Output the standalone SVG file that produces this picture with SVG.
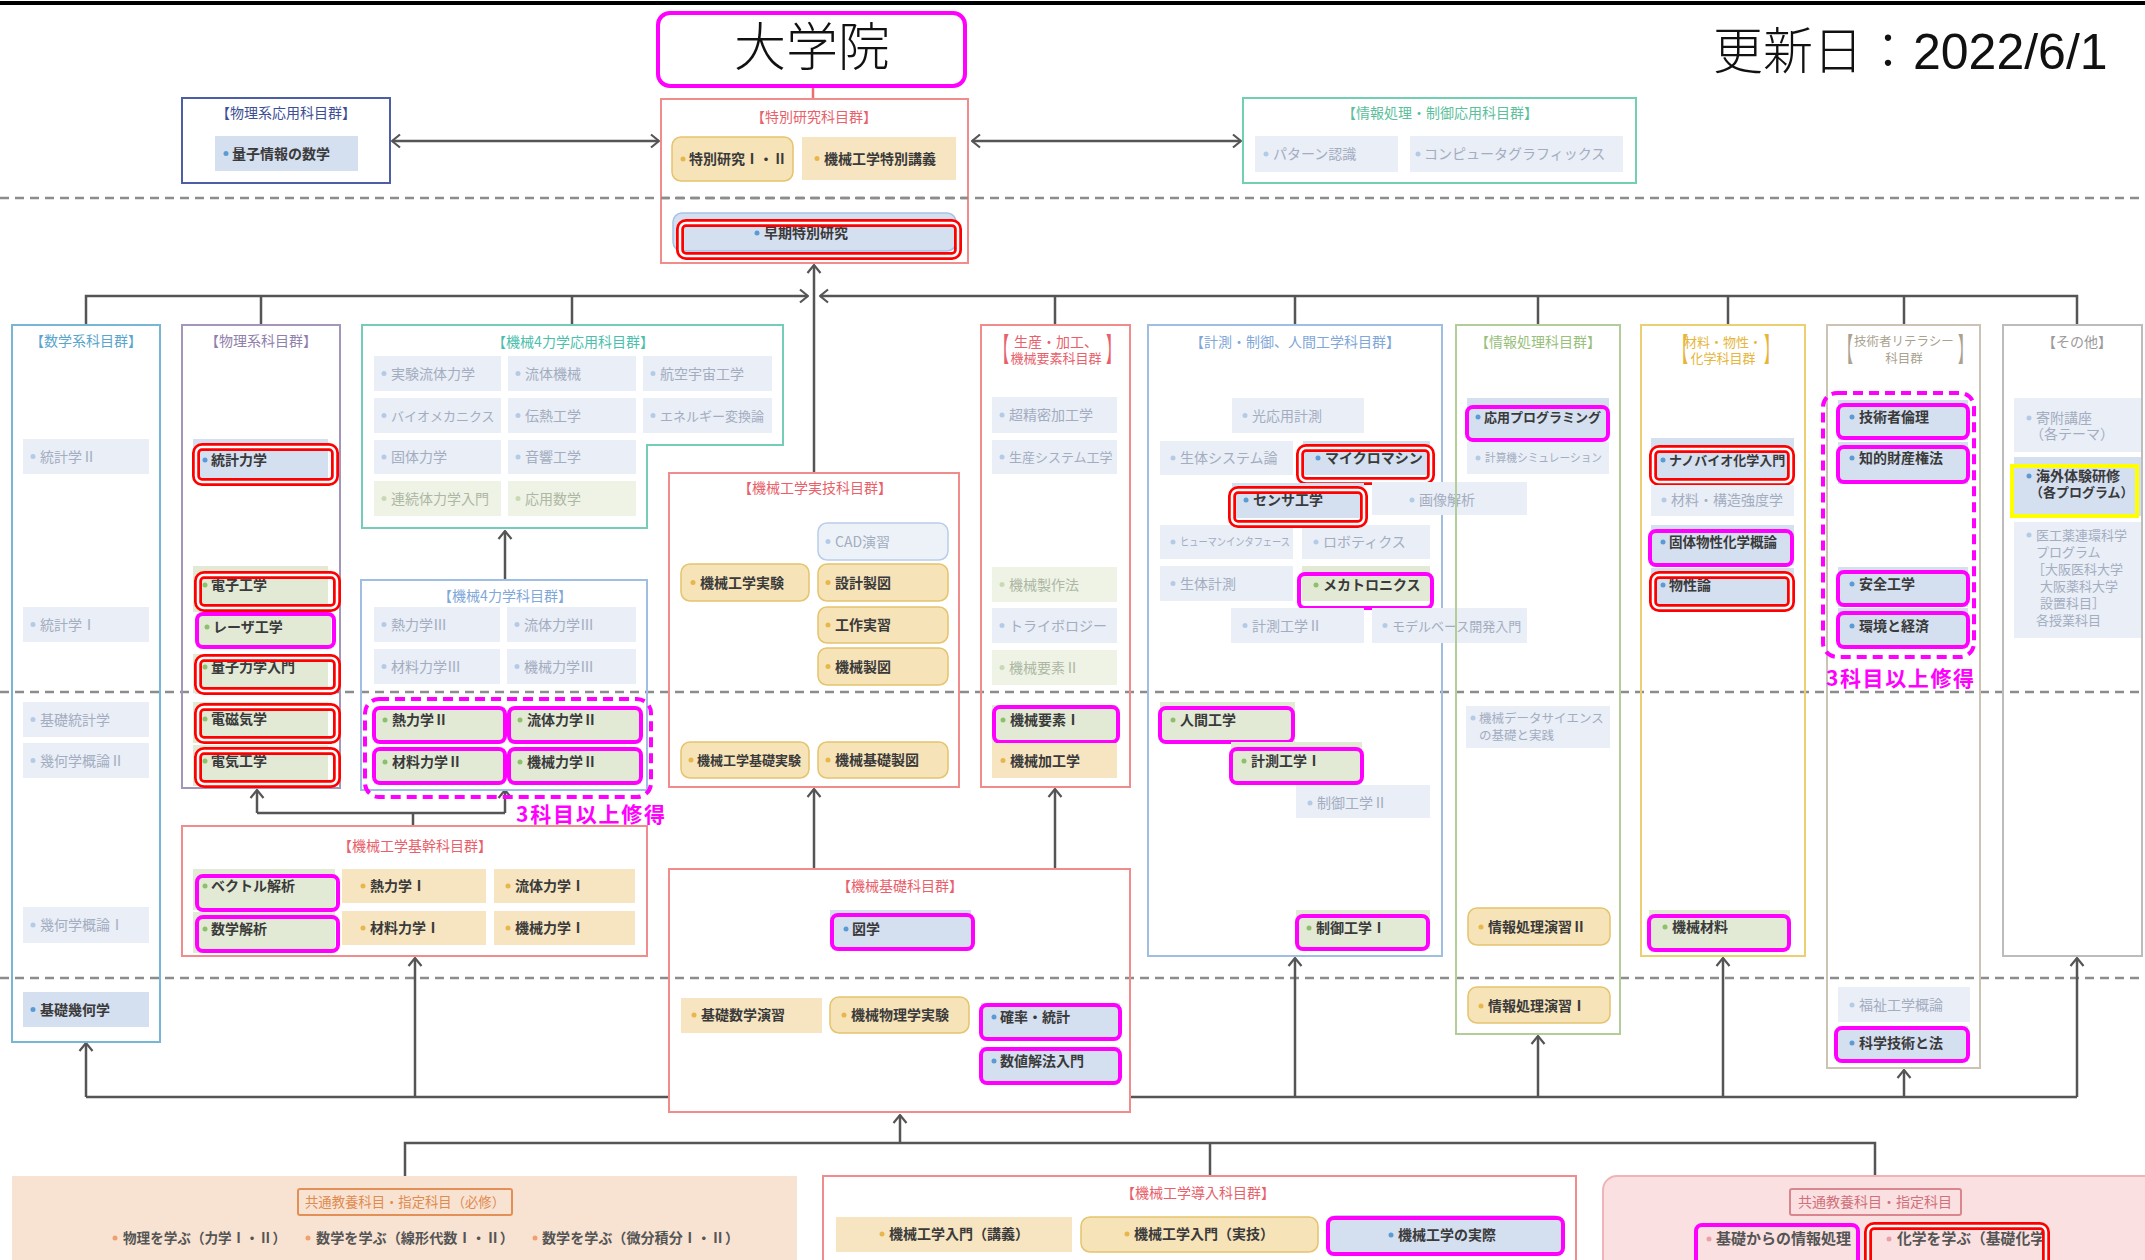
<svg xmlns="http://www.w3.org/2000/svg" width="2145" height="1260" viewBox="0 0 2145 1260">
<defs>
<style>
text{font-family:"Noto Sans CJK JP","Noto Sans CJK SC",sans-serif;}
.ab{fill:#d4dff0}
.ag{fill:#e2ead6}
.ay{fill:#f6e5c0}
.ry{fill:#f6e3b8;stroke:#e5c46e;stroke-width:1.5}
.rb{fill:#d4dff0;stroke:#a8c2e3;stroke-width:1.5}
.fb{fill:#e9eef7}
.fg{fill:#eef3e5}
.ta{font-size:14px;font-weight:700;fill:#3a3a3a}
.tf{font-size:14px;fill:#a3adbf}
.tg{font-size:14px;fill:#adb7a4}
.bb{fill:#5b9bd5}.bg{fill:#8cc06a}.by{fill:#e8b64a}.bf{fill:#b4cbe8}.bfg{fill:#c9d9b3}.bo{fill:#f0a070}.bp{fill:#eaa0a8}
.hm{fill:none;stroke:#ff00ff;stroke-width:4}
.hr1{fill:none;stroke:#ff0000;stroke-width:8}
.hr2{fill:none;stroke:#ffffff;stroke-width:2.5}
.fr{fill:none;stroke-width:2}
.ttl{font-size:14px;text-anchor:middle}
.cn{fill:none;stroke:#555;stroke-width:2.5}
.dl{stroke:#8c8c8c;stroke-width:2.5;stroke-dasharray:9 6}
.dm{fill:none;stroke:#ff00ff;stroke-width:4;stroke-dasharray:10 6}
.m3{font-size:21px;font-weight:700;fill:#ff00ff}
</style>
<marker id="ah" viewBox="0 0 10 16" refX="9" refY="8" markerWidth="10" markerHeight="16" markerUnits="userSpaceOnUse" orient="auto-start-reverse"><path d="M1,1.5 L9,8 L1,14.5" fill="none" stroke="#555" stroke-width="2.2"/></marker>
</defs>
<rect width="2145" height="1260" fill="#fff"/>
<line x1="0" y1="3" x2="2145" y2="3" stroke="#000" stroke-width="4"/>
<g id="guides">
<line class="dl" x1="0" y1="198" x2="2145" y2="198"/>
<line class="dl" x1="0" y1="692" x2="2145" y2="692"/>
<line class="dl" x1="0" y1="978" x2="2145" y2="978"/>
</g>

<g id="connectors">
<line x1="813" y1="86" x2="813" y2="99" stroke="#e87070" stroke-width="2.5"/>
<path class="cn" d="M392,141 H659" marker-start="url(#ah)" marker-end="url(#ah)"/>
<path class="cn" d="M972,141 H1241" marker-start="url(#ah)" marker-end="url(#ah)"/>
<path class="cn" d="M86,325 V296 H808" marker-end="url(#ah)"/>
<path class="cn" d="M261,296 V325 M572,296 V325"/>
<path class="cn" d="M2077,325 V296 H820" marker-end="url(#ah)"/>
<path class="cn" d="M1055,296 V325 M1295,296 V325 M1538,296 V325 M1728,296 V325 M1904,296 V325"/>
<path class="cn" d="M814,473 V265" marker-end="url(#ah)"/>
<path class="cn" d="M505,580 V531" marker-end="url(#ah)"/>
<path class="cn" d="M413,826 V813 M257,813 H505"/>
<path class="cn" d="M257,813 V790" marker-end="url(#ah)"/>
<path class="cn" d="M505,813 V790" marker-end="url(#ah)"/>
<path class="cn" d="M814,869 V789" marker-end="url(#ah)"/>
<path class="cn" d="M1055,869 V789" marker-end="url(#ah)"/>
<path class="cn" d="M86,1097 H669 M1130,1097 H2077"/>
<path class="cn" d="M86,1097 V1043" marker-end="url(#ah)"/>
<path class="cn" d="M415,1097 V958" marker-end="url(#ah)"/>
<path class="cn" d="M1295,1097 V958" marker-end="url(#ah)"/>
<path class="cn" d="M1538,1097 V1036" marker-end="url(#ah)"/>
<path class="cn" d="M1723,1097 V958" marker-end="url(#ah)"/>
<path class="cn" d="M1904,1097 V1070" marker-end="url(#ah)"/>
<path class="cn" d="M2077,1097 V958" marker-end="url(#ah)"/>
<path class="cn" d="M405,1176 V1143 H1875 V1176 M1210,1143 V1176"/>
<path class="cn" d="M900,1143 V1115" marker-end="url(#ah)"/>
</g>

<g id="n-daigakuin"><rect x="658" y="13" width="307" height="73" rx="12" fill="#fff" stroke="#ff00ff" stroke-width="4"/><text x="812" y="66" font-size="52" font-weight="300" text-anchor="middle" fill="#111">大学院</text></g>
<text id="date" x="1713" y="69" font-size="50" fill="#111"><tspan font-weight="300">更新日：</tspan><tspan style="font-family:'Liberation Sans',sans-serif">2022/6/1</tspan></text>

<g id="g-tokubetsu">
<rect class="fr" x="661" y="99" width="307" height="164" stroke="#f08c8c" fill="#fff"/>
<text class="ttl" x="814" y="122" fill="#e8606a">【特別研究科目群】</text>
<g id="i-tokken"><rect class="ry" x="672" y="137" width="121" height="44" rx="9"/><circle class="by" cx="683" cy="159" r="2.5"/><text class="ta" x="689" y="164">特別研究Ⅰ・Ⅱ</text></g>
<g id="i-tokkougi"><rect class="ay" x="802" y="137" width="154" height="43"/><circle class="by" cx="817" cy="158.5" r="2.5"/><text class="ta" x="824" y="163.5">機械工学特別講義</text></g>
<line class="dl" x1="661" y1="198" x2="968" y2="198"/>
<g id="i-souki"><rect class="rb" x="673" y="213" width="283" height="38" rx="9"/><circle class="bb" cx="757" cy="233" r="2.5"/><text class="ta" x="764" y="238">早期特別研究</text><rect class="hr1" x="680" y="223" width="278" height="33" rx="6"/><rect class="hr2" x="680" y="223" width="278" height="33" rx="6"/></g>
</g>

<g id="g-butsuriouyou">
<rect class="fr" x="182" y="98" width="208" height="85" stroke="#4b5ea6" stroke-width="2.5" fill="#fff"/>
<text class="ttl" x="286" y="118" fill="#3d4f94">【物理系応用科目群】</text>
<g id="i-ryoushi"><rect class="ab" x="215" y="136" width="143" height="35"/><circle class="bb" cx="226" cy="153.5" r="2.5"/><text class="ta" x="232" y="158.5" fill="#2c3560">量子情報の数学</text></g>
</g>

<g id="g-jouhouseigyo">
<rect class="fr" x="1243" y="98" width="393" height="85" stroke="#72d0b2" fill="#fff"/>
<text class="ttl" x="1440" y="118" fill="#5cc09c">【情報処理・制御応用科目群】</text>
<g id="i-pattern"><rect class="fb" x="1255" y="136" width="143" height="36"/><circle class="bf" cx="1266" cy="154" r="2.5"/><text class="tf" x="1273" y="159">パターン認識</text></g>
<g id="i-cg"><rect class="fb" x="1410" y="136" width="213" height="36"/><circle class="bf" cx="1418" cy="154" r="2.5"/><text class="tf" x="1424" y="159">コンピュータグラフィックス</text></g>
</g>

<g id="g-suugaku">
<rect class="fr" x="12" y="325" width="148" height="717" stroke="#78b6d6"/>
<text class="ttl" x="86" y="346" fill="#5aa5cc">【数学系科目群】</text>
<g id="i-toukei2"><rect class="fb" x="23" y="439" width="126" height="35"/><circle class="bf" cx="33" cy="456.5" r="2.5"/><text class="tf" x="40" y="461.5">統計学Ⅱ</text></g>
<g id="i-toukei1"><rect class="fb" x="23" y="607" width="126" height="35"/><circle class="bf" cx="33" cy="624.5" r="2.5"/><text class="tf" x="40" y="629.5">統計学Ⅰ</text></g>
<g id="i-kisotoukei"><rect class="fb" x="23" y="702" width="126" height="35"/><circle class="bf" cx="33" cy="719.5" r="2.5"/><text class="tf" x="40" y="724.5">基礎統計学</text></g>
<g id="i-kika2"><rect class="fb" x="23" y="743" width="126" height="35"/><circle class="bf" cx="33" cy="760.5" r="2.5"/><text class="tf" x="40" y="765.5">幾何学概論Ⅱ</text></g>
<g id="i-kika1"><rect class="fb" x="23" y="907" width="126" height="36"/><circle class="bf" cx="33" cy="925" r="2.5"/><text class="tf" x="40" y="930">幾何学概論Ⅰ</text></g>
<g id="i-kisokika"><rect class="ab" x="23" y="992" width="126" height="35"/><circle class="bb" cx="33" cy="1009.5" r="2.5"/><text class="ta" x="40" y="1014.5">基礎幾何学</text></g>
</g>

<g id="g-butsuri">
<rect class="fr" x="182" y="325" width="158" height="463" stroke="#a496ba"/>
<text class="ttl" x="261" y="346" fill="#8f80ac">【物理系科目群】</text>
<g id="i-toukeirikigaku"><rect class="ab" x="193" y="439" width="135" height="40"/><circle class="bb" cx="205" cy="460" r="2.5"/><text class="ta" x="211" y="465">統計力学</text><rect class="hr1" x="196" y="447" width="139" height="35" rx="6"/><rect class="hr2" x="196" y="447" width="139" height="35" rx="6"/></g>
<g id="i-denshi"><rect class="ag" x="193" y="566" width="135" height="46"/><circle class="bg" cx="205" cy="585" r="2.5"/><text class="ta" x="211" y="590">電子工学</text><rect class="hr1" x="198" y="575" width="139" height="33" rx="6"/><rect class="hr2" x="198" y="575" width="139" height="33" rx="6"/></g>
<g id="i-laser"><rect class="ag" x="196" y="614" width="135" height="33"/><circle class="bg" cx="207" cy="627" r="2.5"/><text class="ta" x="213" y="632">レーザ工学</text><rect class="hm" x="197" y="614" width="137" height="33" rx="6"/></g>
<g id="i-ryoushirikigaku"><rect class="ag" x="193" y="654" width="135" height="39"/><circle class="bg" cx="205" cy="667" r="2.5"/><text class="ta" x="211" y="672">量子力学入門</text><rect class="hr1" x="198" y="658" width="139" height="33" rx="6"/><rect class="hr2" x="198" y="658" width="139" height="33" rx="6"/></g>
<g id="i-denjiki"><rect class="ag" x="193" y="702" width="135" height="41"/><circle class="bg" cx="205" cy="719" r="2.5"/><text class="ta" x="211" y="724">電磁気学</text><rect class="hr1" x="198" y="707" width="139" height="33" rx="6"/><rect class="hr2" x="198" y="707" width="139" height="33" rx="6"/></g>
<g id="i-denki"><rect class="ag" x="193" y="745" width="135" height="41"/><circle class="bg" cx="205" cy="761" r="2.5"/><text class="ta" x="211" y="766">電気工学</text><rect class="hr1" x="198" y="751" width="139" height="33" rx="6"/><rect class="hr2" x="198" y="751" width="139" height="33" rx="6"/></g>
</g>

<g id="g-yonrikiouyou">
<polygon points="362,325 783,325 783,445 647,445 647,528 362,528" fill="none" stroke="#74ccb9" stroke-width="2"/>
<text class="ttl" x="573" y="347" fill="#4cbfac">【機械4力学応用科目群】</text>
<g id="i-jikken"><rect class="fb" x="374" y="356" width="127" height="35"/><circle class="bf" cx="384" cy="373.5" r="2.5"/><text class="tf" x="391" y="378.5">実験流体力学</text></g>
<g id="i-ryuutaikikai"><rect class="fb" x="508" y="356" width="128" height="35"/><circle class="bf" cx="518" cy="373.5" r="2.5"/><text class="tf" x="525" y="378.5">流体機械</text></g>
<g id="i-koukuu"><rect class="fb" x="643" y="356" width="129" height="35"/><circle class="bf" cx="653" cy="373.5" r="2.5"/><text class="tf" x="660" y="378.5">航空宇宙工学</text></g>
<g id="i-bio"><rect class="fb" x="374" y="398" width="127" height="35"/><circle class="bf" cx="384" cy="415.5" r="2.5"/><text class="tf" x="391" y="420.5" style="font-size:13px">バイオメカニクス</text></g>
<g id="i-dennetsu"><rect class="fb" x="508" y="398" width="128" height="35"/><circle class="bf" cx="518" cy="415.5" r="2.5"/><text class="tf" x="525" y="420.5">伝熱工学</text></g>
<g id="i-energy"><rect class="fb" x="643" y="398" width="129" height="35"/><circle class="bf" cx="653" cy="415.5" r="2.5"/><text class="tf" x="660" y="420.5" style="font-size:13px">エネルギー変換論</text></g>
<g id="i-kotai"><rect class="fb" x="374" y="440" width="127" height="34"/><circle class="bf" cx="384" cy="457" r="2.5"/><text class="tf" x="391" y="462">固体力学</text></g>
<g id="i-onkyou"><rect class="fb" x="508" y="440" width="128" height="34"/><circle class="bf" cx="518" cy="457" r="2.5"/><text class="tf" x="525" y="462">音響工学</text></g>
<g id="i-renzoku"><rect class="fg" x="374" y="481" width="127" height="35"/><circle class="bfg" cx="384" cy="498.5" r="2.5"/><text class="tg" x="391" y="503.5">連続体力学入門</text></g>
<g id="i-ouyousuugaku"><rect class="fg" x="508" y="481" width="128" height="35"/><circle class="bfg" cx="518" cy="498.5" r="2.5"/><text class="tg" x="525" y="503.5">応用数学</text></g>
</g>

<g id="g-yonriki">
<rect class="fr" x="361" y="580" width="286" height="210" stroke="#a0bde2"/>
<text class="ttl" x="505" y="601" fill="#7fa7d8">【機械4力学科目群】</text>
<g id="i-netsu3"><rect class="fb" x="374" y="607" width="126" height="35"/><circle class="bf" cx="384" cy="624.5" r="2.5"/><text class="tf" x="391" y="629.5">熱力学Ⅲ</text></g>
<g id="i-ryuutai3"><rect class="fb" x="507" y="607" width="129" height="35"/><circle class="bf" cx="517" cy="624.5" r="2.5"/><text class="tf" x="524" y="629.5">流体力学Ⅲ</text></g>
<g id="i-zairyou3"><rect class="fb" x="374" y="649" width="126" height="35"/><circle class="bf" cx="384" cy="666.5" r="2.5"/><text class="tf" x="391" y="671.5">材料力学Ⅲ</text></g>
<g id="i-kikai3"><rect class="fb" x="507" y="649" width="129" height="35"/><circle class="bf" cx="517" cy="666.5" r="2.5"/><text class="tf" x="524" y="671.5">機械力学Ⅲ</text></g>
<g id="i-netsu2"><rect class="ag" x="374" y="707" width="131" height="36"/><circle class="bg" cx="385" cy="720" r="2.5"/><text class="ta" x="392" y="725">熱力学Ⅱ</text><rect class="hm" x="374" y="708" width="131" height="34" rx="6"/></g>
<g id="i-ryuutai2"><rect class="ag" x="509" y="707" width="132" height="36"/><circle class="bg" cx="520" cy="720" r="2.5"/><text class="ta" x="527" y="725">流体力学Ⅱ</text><rect class="hm" x="509" y="708" width="132" height="34" rx="6"/></g>
<g id="i-zairyou2"><rect class="ag" x="374" y="749" width="131" height="35"/><circle class="bg" cx="385" cy="762" r="2.5"/><text class="ta" x="392" y="767">材料力学Ⅱ</text><rect class="hm" x="374" y="749" width="131" height="34" rx="6"/></g>
<g id="i-kikai2"><rect class="ag" x="509" y="749" width="132" height="35"/><circle class="bg" cx="520" cy="762" r="2.5"/><text class="ta" x="527" y="767">機械力学Ⅱ</text><rect class="hm" x="509" y="749" width="132" height="34" rx="6"/></g>
<rect class="dm" x="365" y="699" width="286" height="98" rx="14"/>
<text class="m3" x="516" y="822" textLength="149" lengthAdjust="spacing">3科目以上修得</text>
</g>

<g id="g-kikan">
<rect class="fr" x="182" y="826" width="465" height="130" stroke="#f08c8c"/>
<text class="ttl" x="415" y="851" fill="#e8606a">【機械工学基幹科目群】</text>
<g id="i-vector"><rect class="ag" x="193" y="869" width="142" height="41"/><circle class="bg" cx="205" cy="886" r="2.5"/><text class="ta" x="211" y="891">ベクトル解析</text><rect class="hm" x="197" y="876" width="141" height="34" rx="6"/></g>
<g id="i-suugakukaiseki"><rect class="ag" x="193" y="912" width="142" height="41"/><circle class="bg" cx="205" cy="929" r="2.5"/><text class="ta" x="211" y="934">数学解析</text><rect class="hm" x="197" y="917" width="141" height="34" rx="6"/></g>
<g id="i-netsu1"><rect class="ay" x="342" y="869" width="144" height="34"/><circle class="by" cx="363" cy="886" r="2.5"/><text class="ta" x="370" y="891">熱力学Ⅰ</text></g>
<g id="i-ryuutai1"><rect class="ay" x="494" y="869" width="141" height="34"/><circle class="by" cx="508" cy="886" r="2.5"/><text class="ta" x="515" y="891">流体力学Ⅰ</text></g>
<g id="i-zairyou1"><rect class="ay" x="342" y="911" width="144" height="34"/><circle class="by" cx="363" cy="928" r="2.5"/><text class="ta" x="370" y="933">材料力学Ⅰ</text></g>
<g id="i-kikai1"><rect class="ay" x="494" y="911" width="141" height="34"/><circle class="by" cx="508" cy="928" r="2.5"/><text class="ta" x="515" y="933">機械力学Ⅰ</text></g>
</g>

<g id="g-jitsugi">
<rect class="fr" x="669" y="473" width="290" height="314" stroke="#f08c8c"/>
<text class="ttl" x="815" y="493" fill="#e8606a">【機械工学実技科目群】</text>
<g id="i-cad"><rect x="818" y="523" width="130" height="37" rx="9" fill="#edf2f9" stroke="#b9cde9" stroke-width="1.5"/><circle class="bf" cx="828" cy="541.5" r="2.5"/><text class="tf" x="835" y="546.5">CAD演習</text></g>
<g id="i-kikaijikken"><rect class="ry" x="681" y="564" width="128" height="37" rx="9"/><circle class="by" cx="693" cy="582.5" r="2.5"/><text class="ta" x="700" y="587.5">機械工学実験</text></g>
<g id="i-sekkei"><rect class="ry" x="818" y="564" width="130" height="37" rx="9"/><circle class="by" cx="828" cy="582.5" r="2.5"/><text class="ta" x="835" y="587.5">設計製図</text></g>
<g id="i-kousaku"><rect class="ry" x="818" y="607" width="130" height="36" rx="9"/><circle class="by" cx="828" cy="625" r="2.5"/><text class="ta" x="835" y="630">工作実習</text></g>
<g id="i-kikaiseizu"><rect class="ry" x="818" y="648" width="130" height="37" rx="9"/><circle class="by" cx="828" cy="666.5" r="2.5"/><text class="ta" x="835" y="671.5">機械製図</text></g>
<g id="i-kisojikken"><rect class="ry" x="681" y="742" width="128" height="36" rx="9"/><circle class="by" cx="691" cy="760" r="2.5"/><text class="ta" x="697" y="765" style="font-size:13px">機械工学基礎実験</text></g>
<g id="i-kisoseizu"><rect class="ry" x="818" y="742" width="130" height="36" rx="9"/><circle class="by" cx="828" cy="760" r="2.5"/><text class="ta" x="835" y="765">機械基礎製図</text></g>
</g>

<g id="g-seisan">
<rect class="fr" x="981" y="325" width="149" height="462" stroke="#f08c8c"/>
<text transform="translate(995,361) scale(1,2.3)" font-size="14" fill="#e8606a">【</text>
<text transform="translate(1106,361) scale(1,2.3)" font-size="14" fill="#e8606a">】</text>
<text class="ttl" x="1056" y="347" fill="#e8606a">生産・加工、</text>
<text class="ttl" x="1056" y="363" fill="#e8606a" style="font-size:13px">機械要素科目群</text>
<g id="i-choseimitsu"><rect class="fb" x="992" y="397" width="125" height="36"/><circle class="bf" cx="1002" cy="415" r="2.5"/><text class="tf" x="1009" y="420">超精密加工学</text></g>
<g id="i-seisansystem"><rect class="fb" x="992" y="440" width="125" height="34"/><circle class="bf" cx="1002" cy="457" r="2.5"/><text class="tf" x="1009" y="462" style="font-size:13px">生産システム工学</text></g>
<g id="i-seisakuhou"><rect class="fg" x="992" y="567" width="125" height="35"/><circle class="bfg" cx="1002" cy="584.5" r="2.5"/><text class="tg" x="1009" y="589.5">機械製作法</text></g>
<g id="i-tribo"><rect class="fb" x="992" y="608" width="125" height="35"/><circle class="bf" cx="1002" cy="625.5" r="2.5"/><text class="tf" x="1009" y="630.5">トライボロジー</text></g>
<g id="i-youso2"><rect class="fg" x="992" y="650" width="125" height="35"/><circle class="bfg" cx="1002" cy="667.5" r="2.5"/><text class="tg" x="1009" y="672.5">機械要素Ⅱ</text></g>
<g id="i-youso1"><rect class="ag" x="992" y="705" width="125" height="38"/><circle class="bg" cx="1003" cy="720" r="2.5"/><text class="ta" x="1010" y="725">機械要素Ⅰ</text><rect class="hm" x="994" y="707" width="124" height="35" rx="6"/></g>
<g id="i-kakou"><rect class="ay" x="992" y="743" width="125" height="35"/><circle class="by" cx="1003" cy="760.5" r="2.5"/><text class="ta" x="1010" y="765.5">機械加工学</text></g>
</g>

<g id="g-keisoku">
<rect class="fr" x="1148" y="325" width="294" height="631" stroke="#a0bde2"/>
<text class="ttl" x="1295" y="347" fill="#7fa7d8">【計測・制御、人間工学科目群】</text>
<g id="i-kououyou"><rect class="fb" x="1232" y="398" width="132" height="35"/><circle class="bf" cx="1245" cy="415.5" r="2.5"/><text class="tf" x="1252" y="420.5">光応用計測</text></g>
<g id="i-seitaisystem"><rect class="fb" x="1160" y="441" width="133" height="34"/><circle class="bf" cx="1173" cy="458" r="2.5"/><text class="tf" x="1180" y="463">生体システム論</text></g>
<g id="i-micro"><rect class="ab" x="1303" y="441" width="127" height="34"/><circle class="bb" cx="1318" cy="458" r="2.5"/><text class="ta" x="1325" y="463">マイクロマシン</text><rect class="hr1" x="1300" y="448" width="131" height="33" rx="6"/><rect class="hr2" x="1300" y="448" width="131" height="33" rx="6"/></g>
<g id="i-gazou"><rect class="fb" x="1372" y="482" width="155" height="33"/><circle class="bf" cx="1412" cy="500" r="2.5"/><text class="tf" x="1419" y="505">画像解析</text></g>
<g id="i-human"><rect class="fb" x="1160" y="525" width="133" height="34"/><circle class="bf" cx="1173" cy="542" r="2.5"/><text class="tf" x="1180" y="546" style="font-size:11px" textLength="110" lengthAdjust="spacingAndGlyphs">ヒューマンインタフェース</text></g>
<g id="i-robo"><rect class="fb" x="1302" y="525" width="128" height="34"/><circle class="bf" cx="1316" cy="542" r="2.5"/><text class="tf" x="1323" y="547">ロボティクス</text></g>
<g id="i-sensor"><rect class="ab" x="1232" y="483" width="132" height="35"/><circle class="bb" cx="1246" cy="500" r="2.5"/><text class="ta" x="1253" y="505">センサ工学</text><rect class="hr1" x="1232" y="490" width="132" height="34" rx="6"/><rect class="hr2" x="1232" y="490" width="132" height="34" rx="6"/></g>
<g id="i-seitaikeisoku"><rect class="fb" x="1160" y="566" width="133" height="35"/><circle class="bf" cx="1173" cy="583.5" r="2.5"/><text class="tf" x="1180" y="588.5">生体計測</text></g>
<g id="i-mecha"><rect class="ag" x="1302" y="566" width="128" height="35"/><circle class="bg" cx="1316" cy="585" r="2.5"/><text class="ta" x="1323" y="590">メカトロニクス</text><rect class="hm" x="1299" y="574" width="133" height="34" rx="6"/></g>
<g id="i-keisoku2"><rect class="fb" x="1231" y="608" width="133" height="35"/><circle class="bf" cx="1245" cy="625.5" r="2.5"/><text class="tf" x="1252" y="630.5">計測工学Ⅱ</text></g>
<g id="i-model"><rect class="fb" x="1372" y="608" width="155" height="35"/><circle class="bf" cx="1385" cy="625.5" r="2.5"/><text class="tf" x="1392" y="630.5" style="font-size:13px">モデルベース開発入門</text></g>
<g id="i-ningen"><rect class="ag" x="1160" y="702" width="135" height="40"/><circle class="bg" cx="1173" cy="720" r="2.5"/><text class="ta" x="1180" y="725">人間工学</text><rect class="hm" x="1160" y="708" width="133" height="34" rx="6"/></g>
<g id="i-keisoku1"><rect class="ag" x="1231" y="742" width="131" height="41"/><circle class="bg" cx="1244" cy="761" r="2.5"/><text class="ta" x="1251" y="766">計測工学Ⅰ</text><rect class="hm" x="1231" y="749" width="131" height="34" rx="6"/></g>
<g id="i-seigyo2"><rect class="fb" x="1296" y="785" width="134" height="33"/><circle class="bf" cx="1310" cy="803" r="2.5"/><text class="tf" x="1317" y="808">制御工学Ⅱ</text></g>
<g id="i-seigyo1"><rect class="ag" x="1296" y="910" width="134" height="39"/><circle class="bg" cx="1309" cy="928" r="2.5"/><text class="ta" x="1316" y="933">制御工学Ⅰ</text><rect class="hm" x="1297" y="916" width="131" height="33" rx="6"/></g>
</g>

<g id="g-jouhou">
<rect class="fr" x="1456" y="325" width="164" height="709" stroke="#b2cd98"/>
<text class="ttl" x="1538" y="347" fill="#98bf7c">【情報処理科目群】</text>
<g id="i-ouyouprog"><rect class="ab" x="1467" y="398" width="142" height="40"/><circle class="bb" cx="1478" cy="417" r="2.5"/><text class="ta" x="1484" y="422" style="font-size:13px">応用プログラミング</text><rect class="hm" x="1467" y="407" width="141" height="33" rx="6"/></g>
<g id="i-keisanki"><rect class="fb" x="1467" y="442" width="142" height="32"/><circle class="bf" cx="1478" cy="458" r="2.5"/><text class="tf" x="1485" y="462" style="font-size:11.5px" textLength="117" lengthAdjust="spacingAndGlyphs">計算機シミュレーション</text></g>
<g id="i-datascience"><rect class="fb" x="1466" y="706" width="144" height="42"/><circle class="bf" cx="1473" cy="718" r="2.5"/><text class="tf" x="1479" y="723" style="font-size:12.5px">機械データサイエンス</text><text class="tf" x="1479" y="740" style="font-size:12.5px">の基礎と実践</text></g>
<g id="i-enshu2"><rect class="ry" x="1468" y="908" width="142" height="37" rx="9"/><circle class="by" cx="1481" cy="927" r="2.5"/><text class="ta" x="1488" y="932">情報処理演習Ⅱ</text></g>
<g id="i-enshu1"><rect class="ry" x="1468" y="987" width="142" height="36" rx="9"/><circle class="by" cx="1481" cy="1006" r="2.5"/><text class="ta" x="1488" y="1011">情報処理演習Ⅰ</text></g>
</g>

<g id="g-zairyou">
<rect class="fr" x="1641" y="325" width="164" height="631" stroke="#eccf72"/>
<text transform="translate(1674,361) scale(1,2.3)" font-size="14" fill="#e6b53a">【</text>
<text transform="translate(1764,361) scale(1,2.3)" font-size="14" fill="#e6b53a">】</text>
<text class="ttl" x="1723" y="347" fill="#e6b53a" style="font-size:13px">材料・物性・</text>
<text class="ttl" x="1723" y="363" fill="#e6b53a" style="font-size:13px">化学科目群</text>
<g id="i-nano"><rect class="ab" x="1651" y="438" width="143" height="42"/><circle class="bb" cx="1663" cy="460" r="2.5"/><text class="ta" x="1669" y="465" style="font-size:13px">ナノバイオ化学入門</text><rect class="hr1" x="1653" y="449" width="138" height="33" rx="6"/><rect class="hr2" x="1653" y="449" width="138" height="33" rx="6"/></g>
<g id="i-kouzou"><rect class="fb" x="1651" y="485" width="143" height="31"/><circle class="bf" cx="1664" cy="500" r="2.5"/><text class="tf" x="1671" y="505">材料・構造強度学</text></g>
<g id="i-kotaibussei"><rect class="ab" x="1651" y="525" width="143" height="40"/><circle class="bb" cx="1663" cy="542" r="2.5"/><text class="ta" x="1669" y="547" style="font-size:13.5px">固体物性化学概論</text><rect class="hm" x="1650" y="531" width="142" height="34" rx="6"/></g>
<g id="i-busseiron"><rect class="ab" x="1651" y="568" width="143" height="42"/><circle class="bb" cx="1663" cy="585" r="2.5"/><text class="ta" x="1669" y="590">物性論</text><rect class="hr1" x="1653" y="575" width="138" height="33" rx="6"/><rect class="hr2" x="1653" y="575" width="138" height="33" rx="6"/></g>
<g id="i-kikaizairyou"><rect class="ag" x="1649" y="910" width="141" height="40"/><circle class="bg" cx="1665" cy="927" r="2.5"/><text class="ta" x="1672" y="932">機械材料</text><rect class="hm" x="1649" y="916" width="140" height="34" rx="6"/></g>
</g>

<g id="g-gijutsusha">
<rect class="fr" x="1827" y="325" width="153" height="743" stroke="#cbc3b3"/>
<text transform="translate(1839,361) scale(1,2.3)" font-size="14" fill="#aaa290">【</text>
<text transform="translate(1958,361) scale(1,2.3)" font-size="14" fill="#aaa290">】</text>
<text class="ttl" x="1904" y="346" fill="#aaa290" style="font-size:12.5px">技術者リテラシー</text>
<text class="ttl" x="1904" y="363" fill="#aaa290" style="font-size:12.5px">科目群</text>
<g id="i-rinri"><rect class="ab" x="1838" y="400" width="130" height="40"/><circle class="bb" cx="1852" cy="417" r="2.5"/><text class="ta" x="1859" y="422">技術者倫理</text><rect class="hm" x="1838" y="405" width="130" height="33" rx="6"/></g>
<g id="i-chizai"><rect class="ab" x="1838" y="442" width="130" height="42"/><circle class="bb" cx="1852" cy="458" r="2.5"/><text class="ta" x="1859" y="463">知的財産権法</text><rect class="hm" x="1838" y="447" width="130" height="35" rx="6"/></g>
<g id="i-anzen"><rect class="ab" x="1838" y="567" width="130" height="40"/><circle class="bb" cx="1852" cy="584" r="2.5"/><text class="ta" x="1859" y="589">安全工学</text><rect class="hm" x="1838" y="572" width="130" height="33" rx="6"/></g>
<g id="i-kankyou"><rect class="ab" x="1838" y="608" width="130" height="40"/><circle class="bb" cx="1852" cy="626" r="2.5"/><text class="ta" x="1859" y="631">環境と経済</text><rect class="hm" x="1838" y="613" width="130" height="34" rx="6"/></g>
<rect class="dm" x="1823" y="393" width="151" height="264" rx="14"/>
<text class="m3" x="1826" y="686" textLength="148" lengthAdjust="spacing">3科目以上修得</text>
<g id="i-fukushi"><rect class="fb" x="1838" y="987" width="132" height="35"/><circle class="bf" cx="1852" cy="1005" r="2.5"/><text class="tf" x="1859" y="1010">福祉工学概論</text></g>
<g id="i-kagakugijutsu"><rect class="ab" x="1838" y="1026" width="130" height="36"/><circle class="bb" cx="1852" cy="1043" r="2.5"/><text class="ta" x="1859" y="1048">科学技術と法</text><rect class="hm" x="1836" y="1028" width="132" height="33" rx="6"/></g>
</g>

<g id="g-sonota">
<rect class="fr" x="2003" y="325" width="139" height="631" stroke="#bcbcbc"/>
<text class="ttl" x="2077" y="347" fill="#9a9a9a">【その他】</text>
<g id="i-kifu"><rect class="fb" x="2014" y="398" width="127" height="54"/><circle class="bf" cx="2029" cy="418" r="2.5"/><text class="tf" x="2036" y="423">寄附講座</text><text class="tf" x="2030" y="439">（各テーマ）</text></g>
<g id="i-kaigai"><rect class="ab" x="2014" y="457" width="127" height="59"/><circle class="bb" cx="2029" cy="476" r="2.5"/><text class="ta" x="2036" y="481">海外体験研修</text><text class="ta" x="2030" y="497" style="font-size:13px">（各プログラム）</text><rect x="2012" y="466" width="125" height="50" fill="none" stroke="#ffff00" stroke-width="4"/></g>
<g id="i-ikouyaku"><rect class="fb" x="2014" y="522" width="127" height="116"/><circle class="bf" cx="2029" cy="535" r="2.5"/>
<text class="tf" style="font-size:13px"><tspan x="2036" y="540">医工薬連環科学</tspan><tspan x="2036" y="557">プログラム</tspan><tspan x="2032" y="574">［大阪医科大学</tspan><tspan x="2040" y="591">大阪薬科大学</tspan><tspan x="2040" y="608">設置科目］</tspan><tspan x="2036" y="625">各授業科目</tspan></text></g>
</g>

<g id="g-kiso">
<rect class="fr" x="669" y="869" width="461" height="243" stroke="#f08c8c"/>
<text class="ttl" x="900" y="891" fill="#e8606a">【機械基礎科目群】</text>
<g id="i-zugaku"><rect class="ab" x="830" y="910" width="141" height="37"/><circle class="bb" cx="846" cy="929" r="2.5"/><text class="ta" x="852" y="934">図学</text><rect class="hm" x="832" y="915" width="141" height="34" rx="6"/></g>
<g id="i-kisosuugaku"><rect class="ay" x="681" y="998" width="141" height="35"/><circle class="by" cx="694" cy="1015" r="2.5"/><text class="ta" x="701" y="1020">基礎数学演習</text></g>
<g id="i-butsurijikken"><rect class="ry" x="830" y="997" width="139" height="36" rx="9"/><circle class="by" cx="844" cy="1015" r="2.5"/><text class="ta" x="851" y="1020">機械物理学実験</text></g>
<g id="i-kakuritsu"><rect class="ab" x="981" y="1003" width="139" height="34"/><circle class="bb" cx="994" cy="1017" r="2.5"/><text class="ta" x="1000" y="1022">確率・統計</text><rect class="hm" x="981" y="1005" width="139" height="34" rx="6"/></g>
<g id="i-suuchi"><rect class="ab" x="981" y="1047" width="139" height="36"/><circle class="bb" cx="994" cy="1061" r="2.5"/><text class="ta" x="1000" y="1066">数値解法入門</text><rect class="hm" x="981" y="1049" width="139" height="34" rx="6"/></g>
</g>

<g id="g-kyoutsuu-hisshu">
<rect x="12" y="1176" width="785" height="100" fill="#f8e3d2"/>
<rect x="298" y="1189" width="214" height="26" fill="none" stroke="#e39058" stroke-width="2" rx="2"/>
<text x="405" y="1207" font-size="13.5" text-anchor="middle" fill="#e08a50" textLength="200" lengthAdjust="spacingAndGlyphs">共通教養科目・指定科目（必修）</text>
<circle class="bo" cx="115" cy="1238" r="2.5"/><text x="123" y="1243" font-size="14" font-weight="700" fill="#555" textLength="163" lengthAdjust="spacingAndGlyphs">物理を学ぶ（力学Ⅰ・Ⅱ）</text>
<circle class="bo" cx="308" cy="1238" r="2.5"/><text x="316" y="1243" font-size="14" font-weight="700" fill="#555" textLength="198" lengthAdjust="spacingAndGlyphs">数学を学ぶ（線形代数Ⅰ・Ⅱ）</text>
<circle class="bo" cx="535" cy="1238" r="2.5"/><text x="542" y="1243" font-size="14" font-weight="700" fill="#555" textLength="197" lengthAdjust="spacingAndGlyphs">数学を学ぶ（微分積分Ⅰ・Ⅱ）</text>
</g>

<g id="g-dounyuu">
<rect x="823" y="1176" width="753" height="100" fill="#fff" stroke="#f08c8c" stroke-width="2"/>
<text class="ttl" x="1198" y="1198" fill="#e8606a">【機械工学導入科目群】</text>
<g id="i-nyuumon-kougi"><rect class="ay" x="836" y="1217" width="236" height="35"/><circle class="by" cx="882" cy="1234" r="2.5"/><text class="ta" x="889" y="1239">機械工学入門（講義）</text></g>
<g id="i-nyuumon-jitsugi"><rect class="ry" x="1081" y="1217" width="237" height="35" rx="9"/><circle class="by" cx="1127" cy="1234" r="2.5"/><text class="ta" x="1134" y="1239">機械工学入門（実技）</text></g>
<g id="i-jissai"><rect class="rb" x="1327" y="1216" width="236" height="38" rx="9"/><circle class="bb" cx="1391" cy="1235" r="2.5"/><text class="ta" x="1398" y="1240">機械工学の実際</text><rect class="hm" x="1328" y="1218" width="235" height="36" rx="6"/></g>
</g>

<g id="g-kyoutsuu">
<rect x="1603" y="1176" width="560" height="100" rx="14" fill="#fae0e0" stroke="#f0b4b8" stroke-width="2"/>
<rect x="1790" y="1189" width="171" height="26" fill="none" stroke="#d9868e" stroke-width="2" rx="2"/>
<text x="1875" y="1207" font-size="14" text-anchor="middle" fill="#d0707c">共通教養科目・指定科目</text>
<g id="i-kisojouhou"><circle class="bp" cx="1709" cy="1239" r="2.5"/><text x="1716" y="1244" font-size="15" font-weight="700" fill="#555">基礎からの情報処理</text><rect class="hm" x="1696" y="1225" width="162" height="40" rx="6"/></g>
<g id="i-kagaku"><circle class="bp" cx="1889" cy="1239" r="2.5"/><text x="1897" y="1244" font-size="15" font-weight="700" fill="#555" textLength="148" lengthAdjust="spacingAndGlyphs">化学を学ぶ（基礎化学</text><rect class="hr1" x="1868" y="1226" width="178" height="40" rx="6"/><rect class="hr2" x="1868" y="1226" width="178" height="40" rx="6"/></g>
</g>
</svg>
